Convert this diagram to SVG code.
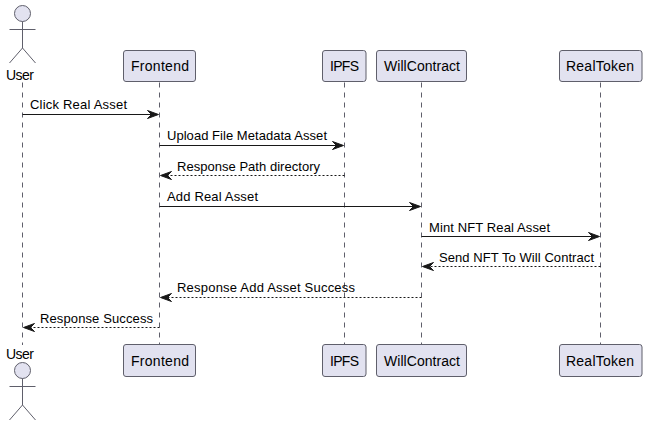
<svg xmlns="http://www.w3.org/2000/svg" width="647" height="426" viewBox="0 0 647 426">
<style>
text{font-family:"Liberation Sans",Arial,sans-serif;font-size:13px;fill:#000}
.t{font-size:14px;text-anchor:middle}
.box{fill:#E2E2F0;stroke:#5f5f6b;stroke-width:1}
.act{fill:#E2E2F0;stroke:#5f5f6b;stroke-width:1}
.lim{fill:none;stroke:#5f5f6b;stroke-width:1}
.life{stroke:#5f5f6b;stroke-width:1;stroke-dasharray:5 5;fill:none}
.m{stroke:#181818;stroke-width:1;fill:none}
.d{stroke-dasharray:2 2}
.h{fill:#181818;stroke:#181818;stroke-width:1}
</style>
<rect width="647" height="426" fill="#fff"/>
<g id="lifelines">
<line class="life" x1="22.5" y1="82.500" x2="22.500" y2="345"/>
<line class="life" x1="159.5" y1="82.500" x2="159.500" y2="345"/>
<line class="life" x1="344.5" y1="82.500" x2="344.500" y2="345"/>
<line class="life" x1="421.5" y1="82.500" x2="421.500" y2="345"/>
<line class="life" x1="600.5" y1="82.500" x2="600.500" y2="345"/>
</g>
<g id="connectors">
<path class="m" d="M22.500 114.500H155"/><path class="h" d="M147.500 110.500L158.500 114.500L147.500 118.500L151.500 114.500Z"/>
<text x="30" y="109" textLength="97" lengthAdjust="spacing">Click Real Asset</text>
<path class="m" d="M159.500 145.500H340"/><path class="h" d="M332.500 141.500L343.500 145.500L332.500 149.500L336.500 145.500Z"/>
<text x="167" y="140" textLength="160" lengthAdjust="spacing">Upload File Metadata Asset</text>
<path class="m d" d="M344.500 175.500H165"/><path class="h" d="M171.500 171.500L160.500 175.500L171.500 179.500L167.500 175.500Z"/>
<text x="177" y="171" textLength="143" lengthAdjust="spacing">Response Path directory</text>
<path class="m" d="M159.500 206.500H417"/><path class="h" d="M409.500 202.500L420.500 206.500L409.500 210.500L413.500 206.500Z"/>
<text x="167" y="201" textLength="91" lengthAdjust="spacing">Add Real Asset</text>
<path class="m" d="M421.500 236.500H596"/><path class="h" d="M588.500 232.500L599.500 236.500L588.500 240.500L592.500 236.500Z"/>
<text x="429" y="232" textLength="121" lengthAdjust="spacing">Mint NFT Real Asset</text>
<path class="m d" d="M600.500 266.500H427"/><path class="h" d="M433.500 262.500L422.500 266.500L433.500 270.500L429.500 266.500Z"/>
<text x="439" y="262" textLength="155" lengthAdjust="spacing">Send NFT To Will Contract</text>
<path class="m d" d="M421.500 297.500H165"/><path class="h" d="M171.500 293.500L160.500 297.500L171.500 301.500L167.500 297.500Z"/>
<text x="177" y="292" textLength="178" lengthAdjust="spacing">Response Add Asset Success</text>
<path class="m d" d="M159.500 327.500H28"/><path class="h" d="M34.500 323.500L23.500 327.500L34.500 331.500L30.500 327.500Z"/>
<text x="40" y="323" textLength="113" lengthAdjust="spacing">Response Success</text>
</g>
<g id="user-top">
<circle class="act" cx="22.500" cy="13.500" r="8"/>
<path class="lim" d="M22.500 21.500V48M9.500 29.500H35.500M22.500 48L9.500 63M22.500 48L35.500 63"/>
<text x="6" y="80" font-size="14" style="font-size:14px" textLength="28" lengthAdjust="spacing">User</text>
</g>
<g id="frontend-top"><rect class="box" x="123.500" y="50.500" width="72" height="31" rx="2.500"/><text x="131" y="71" style="font-size:14px" textLength="58" lengthAdjust="spacing">Frontend</text></g>
<g id="ipfs-top"><rect class="box" x="322.500" y="50.500" width="43.500" height="31" rx="2.500"/><text x="330" y="71" style="font-size:14px" textLength="29" lengthAdjust="spacing">IPFS</text></g>
<g id="willcontract-top"><rect class="box" x="376.500" y="50.500" width="90" height="31" rx="2.500"/><text x="384" y="71" style="font-size:14px" textLength="76" lengthAdjust="spacing">WillContract</text></g>
<g id="realtoken-top"><rect class="box" x="559.500" y="50.500" width="82.500" height="31" rx="2.500"/><text x="566" y="71" style="font-size:14px" textLength="68" lengthAdjust="spacing">RealToken</text></g>
<g id="user-bottom">
<text x="6" y="359" style="font-size:14px" textLength="28" lengthAdjust="spacing">User</text>
<circle class="act" cx="22.500" cy="370.500" r="8"/>
<path class="lim" d="M22.500 378.500V405M9.500 386.500H35.500M22.500 405L9.500 420M22.500 405L35.500 420"/>
</g>
<g id="frontend-bottom"><rect class="box" x="123.500" y="344.500" width="72" height="32" rx="2.500"/><text x="131" y="366" style="font-size:14px" textLength="58" lengthAdjust="spacing">Frontend</text></g>
<g id="ipfs-bottom"><rect class="box" x="322.500" y="344.500" width="43.500" height="32" rx="2.500"/><text x="330" y="366" style="font-size:14px" textLength="29" lengthAdjust="spacing">IPFS</text></g>
<g id="willcontract-bottom"><rect class="box" x="376.500" y="344.500" width="90" height="32" rx="2.500"/><text x="384" y="366" style="font-size:14px" textLength="76" lengthAdjust="spacing">WillContract</text></g>
<g id="realtoken-bottom"><rect class="box" x="559.500" y="344.500" width="82.500" height="32" rx="2.500"/><text x="566" y="366" style="font-size:14px" textLength="68" lengthAdjust="spacing">RealToken</text></g>
</svg>
